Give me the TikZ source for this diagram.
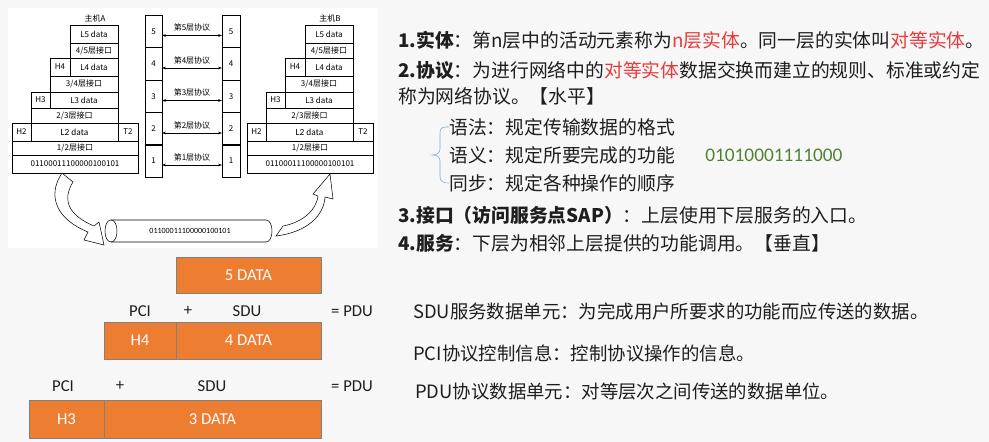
\documentclass[tikz,border=0pt]{standalone}
\usepackage{fontspec}
\setmainfont{Carlito}
\newfontfamily\cjk{Noto Sans CJK SC}
\usetikzlibrary{arrows.meta}
\definecolor{org}{RGB}{237,125,49}
\definecolor{redt}{RGB}{232,58,58}
\definecolor{grn}{RGB}{84,130,53}
\definecolor{brc}{RGB}{120,170,210}
\definecolor{txt}{RGB}{30,30,30}
\newcommand{\rd}[1]{\textcolor{redt}{#1}}
\begin{document}
\begin{tikzpicture}[x=0.75pt,y=-0.75pt,
  cell/.style={draw,thin,inner sep=0pt,font=\cjk\fontsize{6}{7}\selectfont},
  ob/.style={draw=gray,fill=org,text=white,inner sep=0pt,font=\fontsize{12.5}{14}\selectfont},
  lab/.style={font=\fontsize{12.5}{14}\selectfont,text=txt},
  tl/.style={anchor=west,inner sep=0pt,text=txt,font=\cjk\fontsize{14.1}{16}\selectfont},
  bl/.style={anchor=west,inner sep=0pt,text=txt,font=\cjk\fontsize{13.8}{16}\selectfont},
  parr/.style={{Stealth[length=3pt,width=2pt]}-{Stealth[length=3pt,width=2pt]},thin}]
\fill[gray!6] (0,0) rectangle (989,442);
\useasboundingbox (0,0) rectangle (989,442);
\fill[white] (8,8) rectangle (378,248);
% host stacks
\foreach \o/\h in {0/A,235/B}{
\begin{scope}[xshift=\o*0.75pt]
\node[font=\cjk\fontsize{6}{7}\selectfont] (hn\h) at (95,18) {主机\h};
\node[cell,minimum width=48*0.75pt,minimum height=18*0.75pt] (l5\h) at (94,34) {L5 data};
\node[cell,minimum width=48*0.75pt,minimum height=15*0.75pt] (i45\h) at (94,50.5) {4/5层接口};
\node[cell,minimum width=20*0.75pt,minimum height=18*0.75pt] (h4\h) at (60,67) {H4};
\node[cell,minimum width=48*0.75pt,minimum height=18*0.75pt] (l4\h) at (94,67) {L4 data};
\node[cell,minimum width=68*0.75pt,minimum height=16*0.75pt] (i34\h) at (84,84) {3/4层接口};
\node[cell,minimum width=19*0.75pt,minimum height=16*0.75pt] (h3\h) at (40.5,100) {H3};
\node[cell,minimum width=68*0.75pt,minimum height=16*0.75pt] (l3\h) at (84,100) {L3 data};
\node[cell,minimum width=87*0.75pt,minimum height=15*0.75pt] (i23\h) at (74.5,115.5) {2/3层接口};
\node[cell,minimum width=19*0.75pt,minimum height=18*0.75pt] (h2\h) at (21.5,132) {H2};
\node[cell,minimum width=87*0.75pt,minimum height=18*0.75pt,font=\fontsize{7}{8}\selectfont] (l2\h) at (74.5,132) {L2 data};
\node[cell,minimum width=20*0.75pt,minimum height=18*0.75pt] (t2\h) at (128,132) {T2};
\node[cell,minimum width=126*0.75pt,minimum height=14*0.75pt] (i12\h) at (75,148) {1/2层接口};
\node[cell,minimum width=126*0.75pt,minimum height=18*0.75pt] (b\h) at (75,164) {01100011100000100101};
\end{scope}}
% middle columns
\foreach \n/\y in {5/31.5,4/64,3/96.5,2/129,1/161}{
\node[cell,minimum width=17*0.75pt,minimum height=32.5*0.75pt] (ml\n) at (153.5,\y) {\n};
\node[cell,minimum width=18*0.75pt,minimum height=32.5*0.75pt] (mr\n) at (231,\y) {\n};
\coordinate (al\n) at (162,\y+4); \coordinate (ar\n) at (222,\y+4);
\draw[parr] (al\n) -- (ar\n);
\node[font=\cjk\fontsize{6}{7}\selectfont,inner sep=0pt] (pl\n) at (192,\y-4) {第\n 层协议};
}
% cylinder
\draw[thin] (111,220) -- (266,220) .. controls (274,220) and (274,242) .. (266,242) -- (111,242);
\draw[thin] (111,220) .. controls (103,220) and (103,242) .. (111,242) .. controls (119,242) and (119,220) .. (111,220);
\node[font=\fontsize{6}{7}\selectfont] (cyl) at (190,231) {01100011100000100101};
% curved arrows
\draw[thin,fill=white] (62,173) .. controls (46,197) and (58,220) .. (88,232) -- (84,240) -- (104,245) -- (99,222) -- (94,226) .. controls (68,215) and (62,200) .. (73,182) -- cycle;
\draw[thin,fill=white] (276,236) .. controls (308,232) and (324,215) .. (325,197) -- (333,199) -- (330,174) -- (313,194) -- (318,196) .. controls (316,212) and (300,223) .. (283,226) -- cycle;
% orange boxes
\node[ob,minimum width=145*0.75pt,minimum height=36*0.75pt] (d5) at (248.5,275) {5 DATA};
\node[ob,minimum width=72*0.75pt,minimum height=37*0.75pt] (h4) at (140,340.5) {H4};
\node[ob,minimum width=145*0.75pt,minimum height=37*0.75pt] (d4) at (248.5,340.5) {4 DATA};
\node[ob,minimum width=75*0.75pt,minimum height=38*0.75pt] (h3) at (66.5,419) {H3};
\node[ob,minimum width=217*0.75pt,minimum height=38*0.75pt] (d3) at (212.5,419) {3 DATA};
\node[lab] (pci1) at (140,311) {PCI};
\node[lab] (plus1) at (188,311) {+};
\node[lab] (sdu1) at (247,311) {SDU};
\node[lab] (pdu1) at (352,311) {= PDU};
\node[lab] (pci2) at (63,386) {PCI};
\node[lab] (plus2) at (120,386) {+};
\node[lab] (sdu2) at (212,386) {SDU};
\node[lab] (pdu2) at (352,386) {= PDU};
% right text
\node[tl] (t1) at (398,40) {\textbf{1.实体}：第n层中的活动元素称为\rd{n层实体}。同一层的实体叫\rd{对等实体}。};
\node[tl] (t2) at (398,70) {\textbf{2.协议}：为进行网络中的\rd{对等实体}数据交换而建立的规则、标准或约定};
\node[tl] (t2b) at (398,96) {称为网络协议。【水平】};
\node[tl] (s1) at (449,127) {语法：规定传输数据的格式};
\node[tl] (s2) at (449,155) {语义：规定所要完成的功能};
\node[tl] (s3) at (449,183) {同步：规定各种操作的顺序};
\node[tl,text=grn,font=\fontsize{14.5}{16}\selectfont] (bits) at (705,155) {01010001111000};
\draw[brc,thin] (s1.west) -- ++(-3,0) .. controls (440,127) and (440,130) .. (440,135) -- (440,149) .. controls (440,153) and (437,155) .. (432,155) .. controls (437,155) and (440,157) .. (440,161) -- (440,176) .. controls (440,181) and (442,183) .. (s3.west);
\node[tl] (t3) at (398,215) {\textbf{3.接口（访问服务点SAP）}：上层使用下层服务的入口。};
\node[tl] (t4) at (398,243) {\textbf{4.服务}：下层为相邻上层提供的功能调用。【垂直】};
\node[bl] (b1) at (413,311) {SDU服务数据单元：为完成用户所要求的功能而应传送的数据。};
\node[bl] (b2) at (413,353) {PCI协议控制信息：控制协议操作的信息。};
\node[bl] (b3) at (415,392) {PDU协议数据单元：对等层次之间传送的数据单位。};
\end{tikzpicture}
\end{document}
